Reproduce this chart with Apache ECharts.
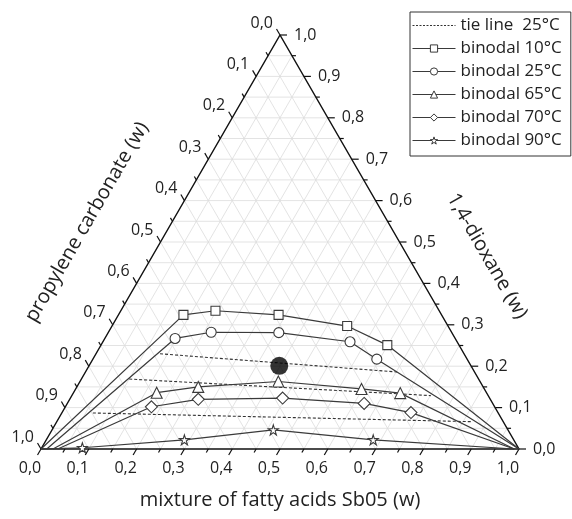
<!DOCTYPE html>
<html>
<head>
<meta charset="utf-8">
<script src="https://cdn.jsdelivr.net/npm/echarts@6/dist/echarts.min.js"></script>
</head>
<body style="margin:0;padding:0;background:#fff;">
<div id="chart" style="width:572px;height:519px;"></div>
<script>
var H = Math.sqrt(3) / 2;
var FONT = '"Open Sans", "DejaVu Sans", sans-serif';

// all points are [fatty acids Sb05, 1,4-dioxane] mass fractions
var tickValues = [0, 0.1, 0.2, 0.3, 0.4, 0.5, 0.6, 0.7, 0.8, 0.9, 1.0];
var tickLabels = ['0,0', '0,1', '0,2', '0,3', '0,4', '0,5', '0,6', '0,7', '0,8', '0,9', '1,0'];
var minorTicks = [0.05, 0.15, 0.25, 0.35, 0.45, 0.55, 0.65, 0.75, 0.85, 0.95];
var gridValues = [0.05, 0.1, 0.15, 0.2, 0.25, 0.3, 0.35, 0.4, 0.45, 0.5,
                  0.55, 0.6, 0.65, 0.7, 0.75, 0.8, 0.85, 0.9, 0.95];

var binodal10 = [[0, 0], [0.136, 0.324], [0.198, 0.334], [0.335, 0.324], [0.492, 0.297], [0.599, 0.251], [1, 0]];
var binodal25 = [[0.012, 0], [0.147, 0.267], [0.215, 0.282], [0.357, 0.281], [0.517, 0.259], [0.594, 0.217], [1, 0]];
var binodal65 = [[0.025, 0], [0.174, 0.136], [0.254, 0.150], [0.415, 0.163], [0.598, 0.145], [0.684, 0.135], [0.99, 0]];
var binodal70 = [[0.035, 0], [0.180, 0.102], [0.269, 0.120], [0.444, 0.123], [0.621, 0.110], [0.730, 0.088], [0.99, 0]];
var binodal90 = [[0, 0], [0.085, 0.003], [0.289, 0.022], [0.463, 0.046], [0.684, 0.022], [0.99, 0]];
var tieLine1 = [[0.134, 0.230], [0.652, 0.186]];
var tieLine2 = [[0.100, 0.169], [0.751, 0.129]];
var tieLine3 = [[0.065, 0.087], [0.867, 0.066]];
var feedPoint = [0.398, 0.201];

function toXY(f, d) {
  return [f + d / 2, d * H];
}

function curveData(points, hideEnds) {
  return points.map(function (p, i) {
    var item = { value: toXY(p[0], p[1]) };
    if (hideEnds && (i === 0 || i === points.length - 1)) item.symbol = 'none';
    return item;
  });
}

function seg(api, a, b, color, width) {
  var p = api.coord(a), q = api.coord(b);
  return { type: 'line', shape: { x1: p[0], y1: p[1], x2: q[0], y2: q[1] },
           style: { stroke: color, lineWidth: width } };
}

function renderGrid(params, api) {
  var v = api.value(0);
  var c = '#dcdcdc';
  return { type: 'group', children: [
    seg(api, toXY(0, v), toXY(1 - v, v), c, 0.8),
    seg(api, toXY(v, 0), toXY(v, 1 - v), c, 0.8),
    seg(api, toXY(1 - v, 0), toXY(0, 1 - v), c, 0.8)
  ] };
}

function tickLine(p, dx, dy) {
  return { type: 'line', shape: { x1: p[0], y1: p[1], x2: p[0] + dx, y2: p[1] + dy },
           style: { stroke: '#111', lineWidth: 1.2 } };
}

function label(text, x, y, align) {
  return { type: 'text', x: x, y: y,
           style: { text: text, fill: '#222', fontSize: 16, fontFamily: FONT,
                    align: align, verticalAlign: 'middle' } };
}

function renderTicks(params, api) {
  var v = api.value(0);
  var major = api.value(1) > 0;
  var len = major ? 7 : 4;
  var pb = api.coord(toXY(v, 0));
  var pr = api.coord(toXY(1 - v, v));
  var pl = api.coord(toXY(0, 1 - v));
  var kids = [
    tickLine(pb, -0.5 * len, H * len),
    tickLine(pr, len, 0),
    tickLine(pl, -0.5 * len, -H * len)
  ];
  if (major) {
    var t = tickLabels[params.dataIndex];
    kids.push(label(t, pb[0] - 11, pb[1] + 19, 'center'));
    kids.push(label(t, pr[0] + 14, pr[1], 'left'));
    kids.push(label(t, pl[0] - 7, pl[1] - 12, 'right'));
  }
  return { type: 'group', children: kids };
}

var tickData = tickValues.map(function (v) { return [v, 1]; })
  .concat(minorTicks.map(function (v) { return [v, 0]; }));

var markerStyle = { color: '#fff', borderColor: '#3a3a3a', borderWidth: 1.1 };
var curveLine = { color: '#3a3a3a', width: 1.2 };
var starPath = 'path://M50,2 L61,36 L97,36 L68,57 L79,92 L50,71 L21,92 L32,57 L3,36 L39,36 Z';

function binodal(name, points, symbol, size) {
  return {
    name: name, type: 'line', data: curveData(points, true),
    symbol: symbol, symbolSize: size, showSymbol: true,
    lineStyle: curveLine, itemStyle: markerStyle,
    clip: false, z: 4, animation: false
  };
}

function tie(points) {
  return {
    name: 'tie line  25°C', type: 'line', data: curveData(points, false),
    symbol: 'none', lineStyle: { color: '#333', width: 1.1, type: [3, 2] },
    itemStyle: { color: '#333' }, clip: false, z: 3, animation: false
  };
}

function titleText(text, x, y, rot) {
  return { type: 'text', x: x, y: y, rotation: rot,
    style: { text: text, fill: '#222', fontSize: 20, fontFamily: FONT,
      align: 'center', verticalAlign: 'middle', textAlign: 'center', textVerticalAlign: 'middle' } };
}

var chart = echarts.init(document.getElementById('chart'));
chart.setOption({
  animation: false,
  grid: { left: 41, top: 35, width: 478, height: 414 },
  xAxis: { type: 'value', min: 0, max: 1, show: false },
  yAxis: { type: 'value', min: 0, max: H, show: false },
  legend: {
    orient: 'vertical', left: 410, top: 12,
    padding: [5, 9, 7, 2], itemGap: 6, itemWidth: 43, itemHeight: 9,
    borderColor: '#333', borderWidth: 1, backgroundColor: '#fff',
    itemStyle: { borderWidth: 1 }, lineStyle: { width: 1 },
    textStyle: { fontSize: 17, color: '#222', fontFamily: FONT },
    data: [
      { name: 'tie line  25°C', itemStyle: { opacity: 0 },
        lineStyle: { color: '#333', width: 1, type: [2, 1.5], opacity: 1 } },
      'binodal 10°C', 'binodal 25°C', 'binodal 65°C', 'binodal 70°C', 'binodal 90°C'
    ]
  },
  graphic: [
    titleText('mixture of fatty acids Sb05 (w)', 280, 500, 0),
    titleText('propylene carbonate (w)', 87, 222, Math.PI / 3),
    titleText('1,4-dioxane (w)', 487, 256, -Math.PI / 3)
  ],
  series: [
    { type: 'custom', name: 'grid', renderItem: renderGrid, clip: false, z: 1, silent: true,
      data: gridValues.map(function (v) { return [v, 0]; }) },
    { type: 'line', name: 'frame', data: [toXY(0, 0), toXY(1, 0), toXY(0, 1), toXY(0, 0)],
      symbol: 'none', lineStyle: { color: '#111', width: 1.5 }, clip: false, z: 2 },
    { type: 'custom', name: 'ticks', renderItem: renderTicks, clip: false, z: 2, silent: true,
      data: tickData },
    tie(tieLine1),
    tie(tieLine2),
    tie(tieLine3),
    binodal('binodal 10°C', binodal10, 'rect', 9),
    binodal('binodal 25°C', binodal25, 'circle', 10),
    binodal('binodal 65°C', binodal65, 'triangle', 11),
    binodal('binodal 70°C', binodal70, 'diamond', 12),
    binodal('binodal 90°C', binodal90, starPath, 10),
    { type: 'scatter', name: 'feed', data: [toXY(feedPoint[0], feedPoint[1])],
      symbolSize: 18, itemStyle: { color: '#000' }, clip: false, z: 5 }
  ]
});
</script>
</body>
</html>
